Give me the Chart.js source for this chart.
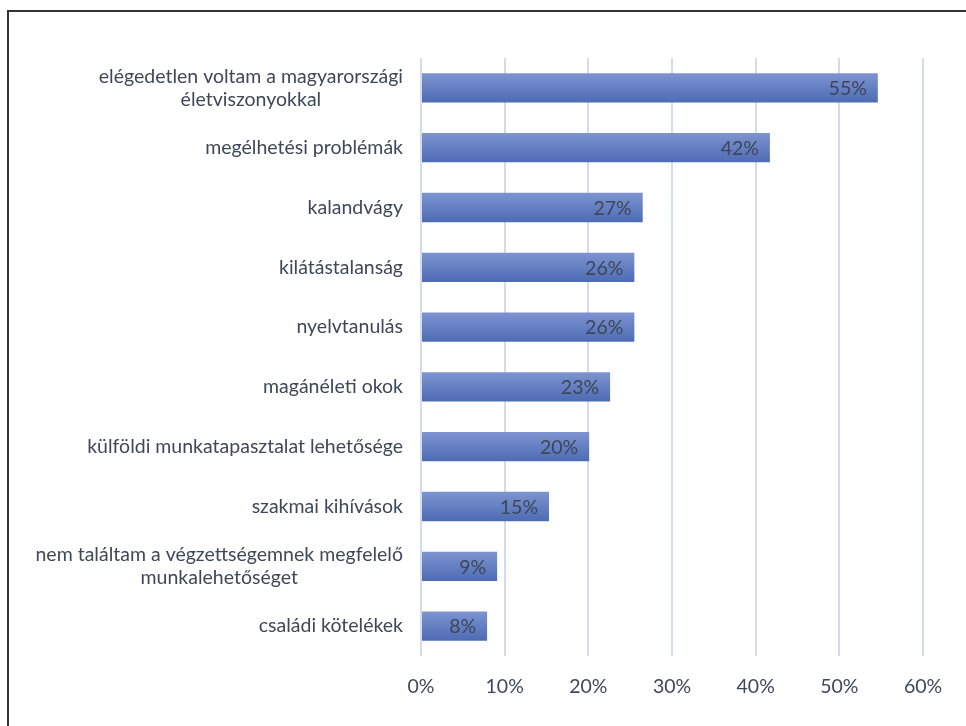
<!DOCTYPE html>
<html>
<head>
<meta charset="utf-8">
<script src="https://cdn.jsdelivr.net/npm/chart.js@4"></script>
<style>
    html, body { margin: 0; padding: 0; background: #fff; }
    #wrap { position: relative; width: 966px; height: 726px; overflow: hidden; }
    #frame { position: absolute; left: 7px; top: 10px; width: 980px; height: 740px;
             border-top: 2px solid #333; border-left: 2px solid #333; }
    canvas { position: absolute; left: 0; top: 0; }
</style>
</head>
<body>
<div id="wrap">
    <div id="frame"></div>
    <canvas id="reasonChart" width="966" height="726"></canvas>
</div>
<script>
// Reasons for leaving Hungary (share of respondents, %)
const categories = [
    ['elégedetlen voltam a magyarországi', 'életviszonyokkal'],
    'megélhetési problémák',
    'kalandvágy',
    'kilátástalanság',
    'nyelvtanulás',
    'magánéleti okok',
    'külföldi munkatapasztalat lehetősége',
    'szakmai kihívások',
    ['nem találtam a végzettségemnek megfelelő', 'munkalehetőséget'],
    'családi kötelékek'
];
const shares = [54.6, 41.7, 26.5, 25.5, 25.5, 22.6, 20.1, 15.3, 9.1, 7.9];
const xTicks = [0, 10, 20, 30, 40, 50, 60];

const FONT = 'Lato, "Open Sans", sans-serif';
const FONT_SIZE = 19.5;
const TEXT = '#3f4858';
const BAR_PCT = 0.7 * 0.7;

function barGradient(context) {
    const chart = context.chart;
    const yScale = chart.scales.y;
    if (!chart.chartArea || !yScale || context.dataIndex === undefined) return '#5f7cc2';
    const y = yScale.getPixelForValue(context.dataIndex);
    const half = (yScale.height / categories.length) * BAR_PCT / 2;
    const g = chart.ctx.createLinearGradient(0, y - half, 0, y + half);
    g.addColorStop(0, '#7d94d0');
    g.addColorStop(1, '#4d6bb4');
    return g;
}

// y labels: each block right-aligned next to the axis, its lines centred
const categoryLabels = {
    id: 'categoryLabels',
    afterDraw(chart) {
        const ctx = chart.ctx;
        const yScale = chart.scales.y;
        ctx.save();
        ctx.font = FONT_SIZE + 'px ' + FONT;
        ctx.fillStyle = TEXT;
        ctx.textAlign = 'center';
        ctx.textBaseline = 'middle';
        const right = chart.chartArea.left - 18;
        const lineH = 23;
        categories.forEach((label, i) => {
            const lines = Array.isArray(label) ? label : [label];
            const w = Math.max(...lines.map(l => ctx.measureText(l).width));
            const cx = right - w / 2;
            const y = yScale.getPixelForValue(i);
            lines.forEach((line, k) => {
                ctx.fillText(line, cx, y + (k - (lines.length - 1) / 2) * lineH);
            });
        });
        ctx.restore();
    }
};

// value labels inside the bar end
const valueLabels = {
    id: 'valueLabels',
    afterDatasetsDraw(chart) {
        const ctx = chart.ctx;
        const meta = chart.getDatasetMeta(0);
        ctx.save();
        ctx.font = FONT_SIZE + 'px ' + FONT;
        ctx.fillStyle = '#3d4656';
        ctx.textAlign = 'right';
        ctx.textBaseline = 'middle';
        meta.data.forEach((bar, i) => {
            ctx.fillText(Math.round(shares[i]) + '%', bar.x - 11, bar.y + 1);
        });
        ctx.restore();
    }
};

new Chart(document.getElementById('reasonChart'), {
    type: 'bar',
    data: {
        labels: categories,
        datasets: [{
            data: shares,
            backgroundColor: barGradient,
            borderWidth: 0,
            categoryPercentage: 0.7,
            barPercentage: 0.7
        }]
    },
    options: {
        indexAxis: 'y',
        responsive: false,
        animation: false,
        layout: { padding: { top: 58, right: 43, left: 0, bottom: 0 } },
        plugins: {
            legend: { display: false },
            tooltip: { enabled: false }
        },
        scales: {
            x: {
                min: xTicks[0],
                max: xTicks[xTicks.length - 1],
                afterBuildTicks: scale => { scale.ticks = xTicks.map(v => ({ value: v })); },
                afterFit: scale => { scale.height = 70; },
                border: { display: false },
                grid: { color: '#d3dcea', lineWidth: 2, drawTicks: false },
                ticks: {
                    padding: 19,
                    color: TEXT,
                    font: { family: FONT, size: FONT_SIZE },
                    callback: v => v + '%'
                }
            },
            y: {
                afterFit: scale => { scale.width = 421; },
                border: { display: false },
                grid: { display: false },
                ticks: { color: 'transparent', font: { family: FONT, size: FONT_SIZE } }
            }
        }
    },
    plugins: [categoryLabels, valueLabels]
});
</script>
</body>
</html>
